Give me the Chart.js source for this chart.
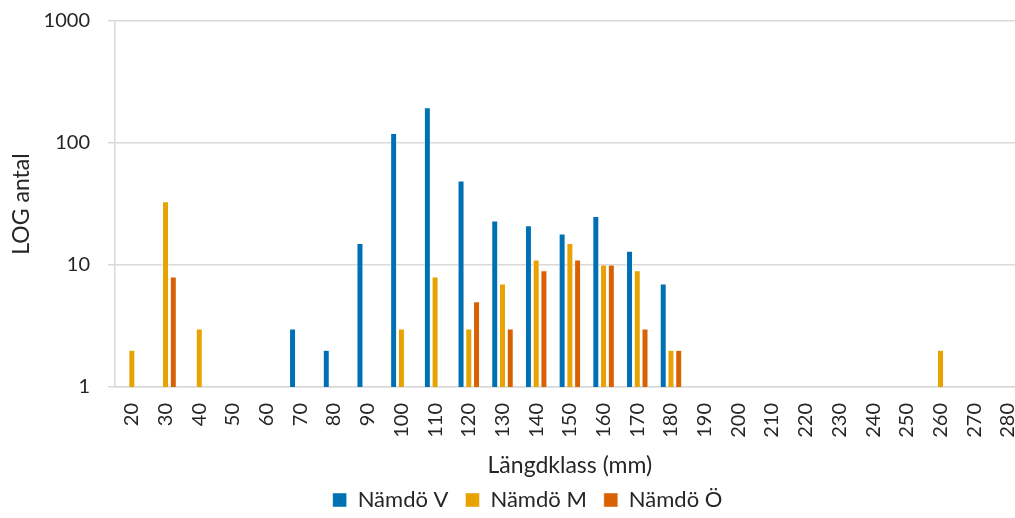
<!DOCTYPE html>
<html>
<head>
<meta charset="utf-8">
<script src="https://cdn.jsdelivr.net/npm/chart.js@4/dist/chart.umd.min.js"></script>
<style>
  html, body { margin: 0; padding: 0; background: #fff; overflow: hidden; }
  /* the original plot runs past the right edge, so the canvas is a bit larger than the window */
  #wrap { position: absolute; left: 0; top: -9px; width: 1048px; height: 530px; }
</style>
</head>
<body>
<div id="wrap"><canvas id="c"></canvas></div>
<script>
  var categories = ['20', '30', '40', '50', '60', '70', '80', '90', '100', '110', '120', '130', '140',
    '150', '160', '170', '180', '190', '200', '210', '220', '230', '240', '250', '260', '270', '280'];

  var namdoV = [null, null, null, null, null, 3, 2, 15, 120, 195, 49, 23, 21,
    18, 25, 13, 7, null, null, null, null, null, null, null, null, null, null];
  var namdoM = [2, 33, 3, null, null, null, null, null, 3, 8, 3, 7, 11,
    15, 10, 9, 2, null, null, null, null, null, null, null, 2, null, null];
  var namdoO = [null, 8, null, null, null, null, null, null, null, null, 5, 3, 9,
    11, 10, 3, 2, null, null, null, null, null, null, null, null, null, null];

  var yTicks = [1, 10, 100, 1000];

  var FONT = 'Lato, "Open Sans", sans-serif';
  var TEXT = '#262626';
  var GRID = '#d9d9d9';

  function series(label, data, color) {
    return {
      label: label,
      data: data,
      backgroundColor: color,
      borderColor: '#ffffff',
      borderWidth: { left: 0.6, right: 0.6, top: 0.6, bottom: 0 },
      categoryPercentage: 0.69,
      barPercentage: 0.8
    };
  }

  // legend in the original sits a bit right of the canvas centre
  var legendShift = {
    id: 'legendShift',
    afterLayout: function (chart) {
      if (chart.legend) { chart.legend.left += 6; chart.legend.right += 6; }
    }
  };

  new Chart(document.getElementById('c'), {
    type: 'bar',
    data: {
      labels: categories,
      datasets: [
        series('Nämdö V', namdoV, '#0070B5'),
        series('Nämdö M', namdoM, '#E8A202'),
        series('Nämdö Ö', namdoO, '#D86104')
      ]
    },
    plugins: [legendShift],
    options: {
      responsive: true,
      maintainAspectRatio: false,
      animation: false,
      layout: { padding: { left: 0, right: 5, top: 3, bottom: 0 } },
      plugins: {
        tooltip: { enabled: false },
        legend: {
          position: 'bottom',
          labels: {
            color: TEXT,
            font: { family: FONT, size: 22 },
            boxWidth: 14,
            boxHeight: 14,
            padding: 17
          }
        }
      },
      scales: {
        x: {
          afterFit: function (scale) { scale.height = 85; },
          grid: { display: false, drawTicks: false },
          border: { display: true, color: GRID, width: 1.5 },
          ticks: {
            color: TEXT,
            font: { family: FONT, size: 20 },
            minRotation: 90,
            maxRotation: 90,
            autoSkip: false,
            padding: 16
          },
          title: {
            display: true,
            text: 'Längdklass (mm)',
            color: TEXT,
            font: { family: FONT, size: 23, lineHeight: 0.6 },
            padding: { top: 0, bottom: 0 }
          }
        },
        y: {
          type: 'logarithmic',
          min: 1,
          max: 1000,
          afterFit: function (scale) { scale.width = 115; },
          afterBuildTicks: function (axis) {
            axis.ticks = yTicks.map(function (v) { return { value: v }; });
          },
          grid: { color: GRID, lineWidth: 1.5, tickLength: 7, drawTicks: true },
          border: { display: true, color: GRID, width: 1.5 },
          ticks: {
            color: TEXT,
            font: { family: FONT, size: 20 },
            padding: 18,
            callback: function (v) { return String(v); }
          },
          title: {
            display: true,
            text: 'LOG antal',
            color: TEXT,
            font: { family: FONT, size: 23, lineHeight: 1 },
            padding: { top: 10, bottom: 0 }
          }
        }
      }
    }
  });
</script>
</body>
</html>
